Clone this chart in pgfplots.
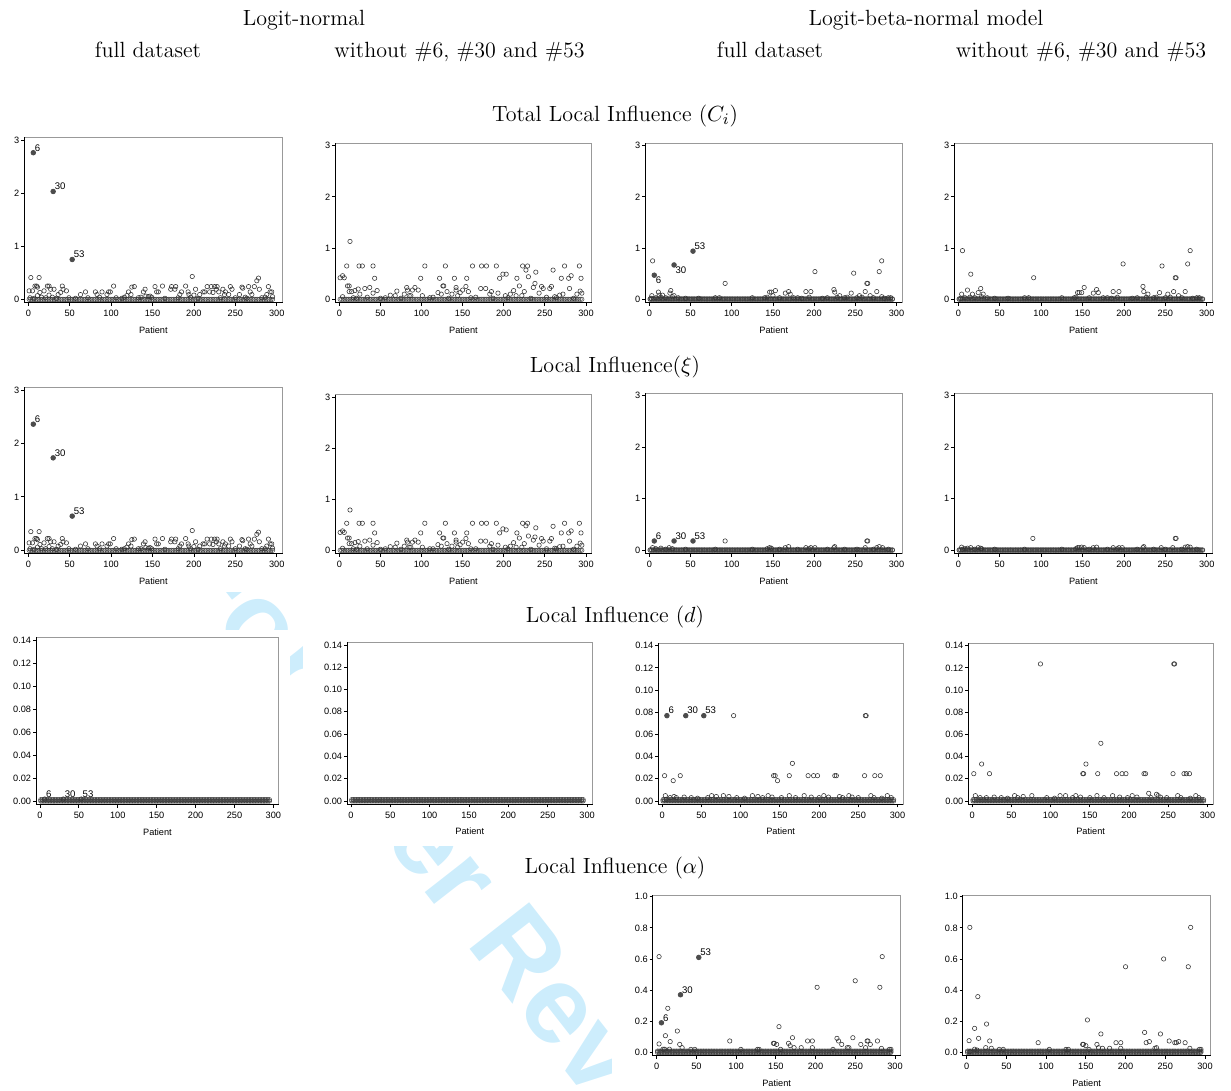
\documentclass[border=0pt]{standalone}
\usepackage{fontspec}
\setsansfont{Liberation Sans}
\usepackage{pgfplots}
\usepackage{pgfplotstable}
\pgfplotsset{compat=1.18}
\definecolor{wmblue}{RGB}{205,237,252}

\pgfplotstableread{
x z s d
1 0 0.008 0.0012
2 0 0.018 0.0021
3 0 0.008 0.0012
4 0 0.018 0.0021
5 0 0.008 0.0012
6 0 0.018 0.0021
7 0 0.008 0.0012
8 0 0.018 0.0021
9 0 0.008 0.0012
10 0 0.018 0.0021
11 0 0.008 0.0012
12 0 0.018 0.0021
13 0 0.008 0.0012
14 0 0.018 0.0021
15 0 0.008 0.0012
16 0 0.018 0.0021
17 0 0.008 0.0012
18 0 0.018 0.0021
19 0 0.008 0.0012
20 0 0.018 0.0021
21 0 0.008 0.0012
22 0 0.018 0.0021
23 0 0.008 0.0012
24 0 0.018 0.0021
25 0 0.008 0.0012
26 0 0.018 0.0021
27 0 0.008 0.0012
28 0 0.018 0.0021
29 0 0.008 0.0012
30 0 0.018 0.0021
31 0 0.008 0.0012
32 0 0.018 0.0021
33 0 0.008 0.0012
34 0 0.018 0.0021
35 0 0.008 0.0012
36 0 0.018 0.0021
37 0 0.008 0.0012
38 0 0.018 0.0021
39 0 0.008 0.0012
40 0 0.018 0.0021
41 0 0.008 0.0012
42 0 0.018 0.0021
43 0 0.008 0.0012
44 0 0.018 0.0021
45 0 0.008 0.0012
46 0 0.018 0.0021
47 0 0.008 0.0012
48 0 0.018 0.0021
49 0 0.008 0.0012
50 0 0.018 0.0021
51 0 0.008 0.0012
52 0 0.018 0.0021
53 0 0.008 0.0012
54 0 0.018 0.0021
55 0 0.008 0.0012
56 0 0.018 0.0021
57 0 0.008 0.0012
58 0 0.018 0.0021
59 0 0.008 0.0012
60 0 0.018 0.0021
61 0 0.008 0.0012
62 0 0.018 0.0021
63 0 0.008 0.0012
64 0 0.018 0.0021
65 0 0.008 0.0012
66 0 0.018 0.0021
67 0 0.008 0.0012
68 0 0.018 0.0021
69 0 0.008 0.0012
70 0 0.018 0.0021
71 0 0.008 0.0012
72 0 0.018 0.0021
73 0 0.008 0.0012
74 0 0.018 0.0021
75 0 0.008 0.0012
76 0 0.018 0.0021
77 0 0.008 0.0012
78 0 0.018 0.0021
79 0 0.008 0.0012
80 0 0.018 0.0021
81 0 0.008 0.0012
82 0 0.018 0.0021
83 0 0.008 0.0012
84 0 0.018 0.0021
85 0 0.008 0.0012
86 0 0.018 0.0021
87 0 0.008 0.0012
88 0 0.018 0.0021
89 0 0.008 0.0012
90 0 0.018 0.0021
91 0 0.008 0.0012
92 0 0.018 0.0021
93 0 0.008 0.0012
94 0 0.018 0.0021
95 0 0.008 0.0012
96 0 0.018 0.0021
97 0 0.008 0.0012
98 0 0.018 0.0021
99 0 0.008 0.0012
100 0 0.018 0.0021
101 0 0.008 0.0012
102 0 0.018 0.0021
103 0 0.008 0.0012
104 0 0.018 0.0021
105 0 0.008 0.0012
106 0 0.018 0.0021
107 0 0.008 0.0012
108 0 0.018 0.0021
109 0 0.008 0.0012
110 0 0.018 0.0021
111 0 0.008 0.0012
112 0 0.018 0.0021
113 0 0.008 0.0012
114 0 0.018 0.0021
115 0 0.008 0.0012
116 0 0.018 0.0021
117 0 0.008 0.0012
118 0 0.018 0.0021
119 0 0.008 0.0012
120 0 0.018 0.0021
121 0 0.008 0.0012
122 0 0.018 0.0021
123 0 0.008 0.0012
124 0 0.018 0.0021
125 0 0.008 0.0012
126 0 0.018 0.0021
127 0 0.008 0.0012
128 0 0.018 0.0021
129 0 0.008 0.0012
130 0 0.018 0.0021
131 0 0.008 0.0012
132 0 0.018 0.0021
133 0 0.008 0.0012
134 0 0.018 0.0021
135 0 0.008 0.0012
136 0 0.018 0.0021
137 0 0.008 0.0012
138 0 0.018 0.0021
139 0 0.008 0.0012
140 0 0.018 0.0021
141 0 0.008 0.0012
142 0 0.018 0.0021
143 0 0.008 0.0012
144 0 0.018 0.0021
145 0 0.008 0.0012
146 0 0.018 0.0021
147 0 0.008 0.0012
148 0 0.018 0.0021
149 0 0.008 0.0012
150 0 0.018 0.0021
151 0 0.008 0.0012
152 0 0.018 0.0021
153 0 0.008 0.0012
154 0 0.018 0.0021
155 0 0.008 0.0012
156 0 0.018 0.0021
157 0 0.008 0.0012
158 0 0.018 0.0021
159 0 0.008 0.0012
160 0 0.018 0.0021
161 0 0.008 0.0012
162 0 0.018 0.0021
163 0 0.008 0.0012
164 0 0.018 0.0021
165 0 0.008 0.0012
166 0 0.018 0.0021
167 0 0.008 0.0012
168 0 0.018 0.0021
169 0 0.008 0.0012
170 0 0.018 0.0021
171 0 0.008 0.0012
172 0 0.018 0.0021
173 0 0.008 0.0012
174 0 0.018 0.0021
175 0 0.008 0.0012
176 0 0.018 0.0021
177 0 0.008 0.0012
178 0 0.018 0.0021
179 0 0.008 0.0012
180 0 0.018 0.0021
181 0 0.008 0.0012
182 0 0.018 0.0021
183 0 0.008 0.0012
184 0 0.018 0.0021
185 0 0.008 0.0012
186 0 0.018 0.0021
187 0 0.008 0.0012
188 0 0.018 0.0021
189 0 0.008 0.0012
190 0 0.018 0.0021
191 0 0.008 0.0012
192 0 0.018 0.0021
193 0 0.008 0.0012
194 0 0.018 0.0021
195 0 0.008 0.0012
196 0 0.018 0.0021
197 0 0.008 0.0012
198 0 0.018 0.0021
199 0 0.008 0.0012
200 0 0.018 0.0021
201 0 0.008 0.0012
202 0 0.018 0.0021
203 0 0.008 0.0012
204 0 0.018 0.0021
205 0 0.008 0.0012
206 0 0.018 0.0021
207 0 0.008 0.0012
208 0 0.018 0.0021
209 0 0.008 0.0012
210 0 0.018 0.0021
211 0 0.008 0.0012
212 0 0.018 0.0021
213 0 0.008 0.0012
214 0 0.018 0.0021
215 0 0.008 0.0012
216 0 0.018 0.0021
217 0 0.008 0.0012
218 0 0.018 0.0021
219 0 0.008 0.0012
220 0 0.018 0.0021
221 0 0.008 0.0012
222 0 0.018 0.0021
223 0 0.008 0.0012
224 0 0.018 0.0021
225 0 0.008 0.0012
226 0 0.018 0.0021
227 0 0.008 0.0012
228 0 0.018 0.0021
229 0 0.008 0.0012
230 0 0.018 0.0021
231 0 0.008 0.0012
232 0 0.018 0.0021
233 0 0.008 0.0012
234 0 0.018 0.0021
235 0 0.008 0.0012
236 0 0.018 0.0021
237 0 0.008 0.0012
238 0 0.018 0.0021
239 0 0.008 0.0012
240 0 0.018 0.0021
241 0 0.008 0.0012
242 0 0.018 0.0021
243 0 0.008 0.0012
244 0 0.018 0.0021
245 0 0.008 0.0012
246 0 0.018 0.0021
247 0 0.008 0.0012
248 0 0.018 0.0021
249 0 0.008 0.0012
250 0 0.018 0.0021
251 0 0.008 0.0012
252 0 0.018 0.0021
253 0 0.008 0.0012
254 0 0.018 0.0021
255 0 0.008 0.0012
256 0 0.018 0.0021
257 0 0.008 0.0012
258 0 0.018 0.0021
259 0 0.008 0.0012
260 0 0.018 0.0021
261 0 0.008 0.0012
262 0 0.018 0.0021
263 0 0.008 0.0012
264 0 0.018 0.0021
265 0 0.008 0.0012
266 0 0.018 0.0021
267 0 0.008 0.0012
268 0 0.018 0.0021
269 0 0.008 0.0012
270 0 0.018 0.0021
271 0 0.008 0.0012
272 0 0.018 0.0021
273 0 0.008 0.0012
274 0 0.018 0.0021
275 0 0.008 0.0012
276 0 0.018 0.0021
277 0 0.008 0.0012
278 0 0.018 0.0021
279 0 0.008 0.0012
280 0 0.018 0.0021
281 0 0.008 0.0012
282 0 0.018 0.0021
283 0 0.008 0.0012
284 0 0.018 0.0021
285 0 0.008 0.0012
286 0 0.018 0.0021
287 0 0.008 0.0012
288 0 0.018 0.0021
289 0 0.008 0.0012
290 0 0.018 0.0021
291 0 0.008 0.0012
292 0 0.018 0.0021
293 0 0.008 0.0012
294 0 0.018 0.0021
295 0 0.008 0.0012
}\base

\pgfplotsset{
  panel/.style={
    scale only axis, anchor=south west,
    xmin=-5, xmax=307,
    xtick={0,50,100,150,200,250,300},
    xtick pos=bottom, ytick pos=left,
    tick align=outside, major tick length=1.5pt,
    tick style={black, line width=0.4pt},
    axis line style={draw=black!40, line width=0.4pt},
    ticklabel style={font=\fontsize{4.6}{5}\selectfont\sffamily, inner sep=0.8pt},
    xticklabel style={yshift=-1.3pt},
    /pgf/number format/assume math mode=true,
    scaled x ticks=false, scaled y ticks=false,
    xlabel={Patient},
    xlabel style={font=\fontsize{4.6}{5}\selectfont\sffamily, at={(rel axis cs:0.5,0)}, anchor=base, yshift=-15.25pt, inner sep=0pt},
    clip=false,
    after end axis/.code={\draw[black, line width=0.45pt] (rel axis cs:0,1) -- (rel axis cs:0,0) -- (rel axis cs:1,0);},
  },
  r12/.style={ymin=-0.065, ymax=3.05, ytick={0,1,2,3}},
  r3/.style={ymin=-0.003, ymax=0.1423, ytick={0,0.02,0.04,0.06,0.08,0.10,0.12,0.14},
    yticklabel style={/pgf/number format/.cd, fixed, fixed zerofill, precision=2}},
  r4/.style={ymin=-0.021, ymax=1.011, ytick={0,0.2,0.4,0.6,0.8,1},
    yticklabel style={/pgf/number format/.cd, fixed, fixed zerofill, precision=1}},
  op/.style={only marks, mark=o, mark size=1.1pt, mark options={line width=0.28pt}, color=black!80},
  bp/.style={only marks, mark=o, mark size=1.1pt, mark options={line width=0.25pt}, color=black!75, each nth point=2},
  fp/.style={only marks, mark=*, mark size=1.15pt, color=black!70},
  lab/.style={nodes near coords, point meta=explicit symbolic,
    nodes near coords style={font=\fontsize{4.8}{5}\selectfont\sffamily, inner sep=0.6pt, anchor=south west, text=black}},
  labdown/.style={nodes near coords, point meta=explicit symbolic,
    nodes near coords style={font=\fontsize{4.8}{5}\selectfont\sffamily, inner sep=0.6pt, anchor=north west, text=black}},
}

\begin{document}
\begin{tikzpicture}
\useasboundingbox (0,0) rectangle (615.5pt,-545.5pt);
% watermark
\node[rotate=-52, anchor=base west, text=wmblue, font=\fontsize{55}{60}\selectfont\sffamily\bfseries, inner sep=0pt] at (86pt,-284pt) {For Peer Review};
% panel backgrounds
\fill[white] (0,-62.5pt) rectangle (145pt,-170pt);
\fill[white] (151.5pt,-62.5pt) rectangle (300pt,-170pt);
\fill[white] (306pt,-62.5pt) rectangle (456pt,-170pt);
\fill[white] (461pt,-62.5pt) rectangle (615.5pt,-170pt);
\fill[white] (0,-188pt) rectangle (145pt,-296pt);
\fill[white] (151.5pt,-188pt) rectangle (300pt,-296pt);
\fill[white] (306pt,-188pt) rectangle (456pt,-296pt);
\fill[white] (461pt,-188pt) rectangle (615.5pt,-296pt);
\fill[white] (0,-315pt) rectangle (145pt,-421pt);
\fill[white] (151.5pt,-315pt) rectangle (300pt,-423pt);
\fill[white] (306pt,-315pt) rectangle (456pt,-421pt);
\fill[white] (461pt,-315pt) rectangle (615.5pt,-421pt);
\fill[white] (306pt,-440pt) rectangle (456pt,-545.5pt);
\fill[white] (461pt,-440pt) rectangle (615.5pt,-545.5pt);

% headers
\begin{scope}[every node/.style={font=\fontsize{11}{13}\selectfont, anchor=base, inner sep=0pt}]
\node at (152pt,-12.6pt) {Logit-normal};
\node at (463pt,-12.6pt) {Logit-beta-normal model};
\node at (74pt,-28.9pt) {full dataset};
\node at (229.75pt,-28.9pt) {without \#6, \#30 and \#53};
\node at (385pt,-28.9pt) {full dataset};
\node at (540.5pt,-28.9pt) {without \#6, \#30 and \#53};
\node at (307.5pt,-60.6pt) {Total Local Influence ($C_i$)};
\node at (307.5pt,-186.1pt) {Local Influence($\xi$)};
\node at (307.5pt,-311.1pt) {Local Influence ($d$)};
\node at (307.5pt,-436.6pt) {Local Influence ($\alpha$)};
\end{scope}

% ---------------- Row 1 ----------------
\begin{axis}[panel, r12, at={(12.1pt,-151.4pt)}, width=129.15pt, height=82.75pt]
\addplot[bp] table[x=x,y=z] {\base};
\addplot[op] coordinates {(1,0.16) (3,0.41) (5,0.16) (8,0.25) (10,0.25) (11,0.23) (11,0.07) (13,0.41) (14,0.13) (19,0.16) (23,0.25) (25,0.25) (25,0.08) (27,0.19) (31,0.19) (36,0.09) (39,0.13) (41,0.25) (42,0.19) (46,0.16) (63,0.09) (69,0.14) (81,0.14) (83,0.09) (89,0.14) (95,0.09) (97,0.14) (99,0.14) (103,0.25) (119,0.07) (121,0.14) (124,0.09) (125,0.23) (128,0.24) (139,0.14) (141,0.19) (142,0.06) (147,0.06) (153,0.24) (155,0.14) (157,0.14) (162,0.25) (172,0.19) (173,0.24) (177,0.19) (178,0.24) (183,0.09) (185,0.14) (190,0.25) (193,0.14) (194,0.09) (198,0.43) (200,0.08) (202,0.19) (207,0.09) (211,0.14) (213,0.14) (216,0.24) (219,0.14) (221,0.24) (223,0.13) (225,0.24) (227,0.19) (228,0.24) (230,0.14) (235,0.19) (237,0.09) (238,0.14) (242,0.09) (244,0.24) (246,0.19) (255,0.09) (258,0.23) (259,0.21) (266,0.24) (268,0.14) (270,0.09) (273,0.24) (276,0.35) (278,0.40) (279,0.19) (288,0.09) (290,0.24) (292,0.14) (294,0.14) (295,0.05)
(2,0.03) (7,0.02) (16,0.04) (21,0.03) (29,0.04) (34,0.02) (49,0.03) (57,0.02) (72,0.03) (86,0.04) (106,0.03) (113,0.02) (116,0.04) (133,0.03) (136,0.04) (145,0.05) (149,0.04) (165,0.02) (181,0.03) (196,0.04) (205,0.02) (232,0.03) (250,0.03) (262,0.04) (264,0.02) (282,0.03) (286,0.04)};
\addplot[fp, lab] coordinates {(6,2.76) [6] (30,2.03) [30] (53,0.75) [53]};
\end{axis}

\begin{axis}[panel, r12, at={(167.6pt,-151.3pt)}, width=128.25pt, height=79.75pt]
\addplot[bp] table[x=x,y=z] {\base};
\addplot[op] coordinates {(1,0.42) (4,0.46) (6,0.42) (4,0.05) (9,0.65) (10,0.26) (12,0.26) (13,1.13) (12,0.15) (15,0.15) (19,0.17) (23,0.2) (24,0.65) (25,0.1) (28,0.65) (31,0.21) (37,0.23) (41,0.12) (41,0.65) (43,0.41) (46,0.17) (62,0.08) (68,0.07) (70,0.16) (79,0.1) (82,0.23) (83,0.18) (85,0.07) (87,0.07) (89,0.18) (92,0.23) (96,0.18) (99,0.41) (101,0.07) (104,0.65) (120,0.13) (122,0.41) (124,0.1) (126,0.26) (127,0.26) (129,0.65) (131,0.15) (137,0.1) (140,0.41) (142,0.18) (142,0.23) (144,0.07) (147,0.13) (150,0.18) (154,0.25) (155,0.41) (157,0.15) (162,0.65) (172,0.21) (173,0.65) (178,0.21) (179,0.65) (183,0.1) (185,0.15) (191,0.65) (193,0.12) (195,0.41) (199,0.49) (203,0.49) (202,0.07) (208,0.1) (212,0.17) (215,0.07) (216,0.41) (219,0.26) (222,0.07) (223,0.65) (225,0.15) (227,0.57) (229,0.65) (230,0.44) (236,0.23) (238,0.31) (239,0.53) (243,0.12) (246,0.25) (248,0.21) (256,0.21) (258,0.25) (260,0.57) (262,0.05) (268,0.08) (270,0.41) (272,0.1) (274,0.65) (279,0.41) (280,0.21) (282,0.46) (289,0.1) (292,0.65) (293,0.16) (294,0.41) (295,0.12)
(17,0.03) (21,0.02) (34,0.04) (50,0.02) (56,0.03) (75,0.02) (110,0.03) (114,0.04) (133,0.02) (160,0.03) (166,0.04) (187,0.02) (205,0.03) (233,0.02) (252,0.04) (264,0.03) (285,0.02)};
\end{axis}

\begin{axis}[panel, r12, at={(322.6pt,-151.3pt)}, width=128.55pt, height=79.75pt]
\addplot[bp] table[x=x,y=z] {\base};
\addplot[bp] table[x=x,y=s] {\base};
\addplot[op] coordinates {(4,0.75) (3,0.07) (2,0.02) (11,0.14) (12,0.08) (16,0.08) (25,0.12) (26,0.17) (30,0.07) (92,0.31) (146,0.14) (148,0.14) (150,0.07) (153,0.17) (165,0.12) (169,0.15) (171,0.1) (190,0.15) (196,0.15) (201,0.54) (224,0.19) (225,0.14) (231,0.07) (245,0.12) (248,0.51) (255,0.07) (262,0.15) (264,0.31) (265,0.31) (268,0.07) (276,0.15) (279,0.54) (282,0.75) (282,0.05)
(8,0.03) (14,0.04) (20,0.03) (28,0.05) (35,0.03) (44,0.02) (60,0.02) (80,0.03) (85,0.03) (125,0.03) (140,0.03) (143,0.04) (158,0.03) (175,0.03) (180,0.03) (185,0.02) (194,0.04) (210,0.02) (216,0.03) (228,0.04) (237,0.03) (240,0.04) (252,0.03) (258,0.04) (272,0.03) (285,0.02) (290,0.03) (293,0.03)};
\addplot[fp, labdown] coordinates {(6,0.47) [6] (30,0.67) [30]};
\addplot[fp, lab] coordinates {(53,0.94) [53]};
\end{axis}

\begin{axis}[panel, r12, at={(477.1pt,-151.3pt)}, width=129.15pt, height=79.75pt]
\addplot[bp] table[x=x,y=z] {\base};
\addplot[bp] table[x=x,y=s] {\base};
\addplot[op] coordinates {(5,0.95) (4,0.1) (3,0.02) (11,0.18) (15,0.49) (17,0.1) (24,0.13) (27,0.21) (30,0.1) (91,0.42) (144,0.13) (146,0.13) (149,0.13) (152,0.23) (163,0.12) (167,0.19) (169,0.13) (187,0.15) (194,0.15) (199,0.69) (223,0.25) (224,0.15) (229,0.1) (243,0.13) (246,0.65) (253,0.1) (260,0.15) (262,0.42) (263,0.42) (266,0.07) (274,0.15) (277,0.69) (280,0.95)
(8,0.03) (14,0.04) (20,0.03) (28,0.05) (35,0.03) (44,0.02) (60,0.02) (80,0.03) (85,0.03) (125,0.03) (140,0.03) (142,0.04) (158,0.03) (175,0.03) (180,0.03) (185,0.02) (192,0.04) (210,0.02) (216,0.03) (227,0.04) (236,0.03) (239,0.04) (250,0.03) (256,0.04) (270,0.03) (283,0.02) (288,0.03) (291,0.03)};
\end{axis}

% ---------------- Row 2 ----------------
\begin{axis}[panel, r12, at={(12.1pt,-276.9pt)}, width=129.15pt, height=83.25pt]
\addplot[bp] table[x=x,y=z] {\base};
\addplot[op] coordinates {(1,0.14) (3,0.35) (5,0.14) (8,0.22) (10,0.22) (11,0.2) (11,0.06) (13,0.35) (14,0.11) (19,0.14) (23,0.22) (25,0.22) (25,0.07) (27,0.16) (31,0.16) (36,0.08) (39,0.11) (41,0.22) (42,0.16) (46,0.14) (63,0.08) (69,0.12) (81,0.12) (83,0.08) (89,0.12) (95,0.08) (97,0.12) (99,0.12) (103,0.22) (119,0.06) (121,0.12) (124,0.08) (125,0.2) (128,0.21) (139,0.12) (141,0.16) (142,0.05) (147,0.05) (153,0.21) (155,0.12) (157,0.12) (162,0.22) (172,0.16) (173,0.21) (177,0.16) (178,0.21) (183,0.08) (185,0.12) (190,0.22) (193,0.12) (194,0.08) (198,0.37) (200,0.07) (202,0.16) (207,0.08) (211,0.12) (213,0.12) (216,0.21) (219,0.12) (221,0.21) (223,0.11) (225,0.21) (227,0.16) (228,0.21) (230,0.12) (235,0.16) (237,0.08) (238,0.12) (242,0.08) (244,0.21) (246,0.16) (255,0.08) (258,0.2) (259,0.18) (266,0.21) (268,0.12) (270,0.08) (273,0.21) (276,0.30) (278,0.34) (279,0.16) (288,0.08) (290,0.21) (292,0.12) (294,0.12) (295,0.04)
(2,0.03) (7,0.02) (16,0.03) (21,0.03) (29,0.03) (34,0.02) (49,0.03) (57,0.02) (72,0.03) (86,0.03) (106,0.03) (113,0.02) (116,0.03) (133,0.03) (136,0.03) (145,0.04) (149,0.03) (165,0.02) (181,0.03) (196,0.03) (205,0.02) (232,0.03) (250,0.03) (262,0.03) (264,0.02) (282,0.03) (286,0.03)};
\addplot[fp, lab] coordinates {(6,2.36) [6] (30,1.73) [30] (53,0.64) [53]};
\end{axis}

\begin{axis}[panel, r12, at={(167.6pt,-276.8pt)}, width=128.25pt, height=79.45pt]
\addplot[bp] table[x=x,y=z] {\base};
\addplot[op] coordinates {(1,0.35) (4,0.38) (6,0.35) (4,0.04) (9,0.53) (10,0.24) (12,0.24) (13,0.79) (12,0.13) (15,0.13) (19,0.15) (23,0.17) (24,0.53) (25,0.08) (28,0.53) (31,0.18) (37,0.2) (41,0.1) (41,0.53) (43,0.34) (46,0.15) (62,0.07) (68,0.06) (70,0.14) (79,0.08) (82,0.2) (83,0.16) (85,0.06) (87,0.06) (89,0.16) (92,0.2) (96,0.16) (99,0.34) (101,0.06) (104,0.53) (120,0.11) (122,0.34) (124,0.08) (126,0.24) (127,0.24) (129,0.53) (131,0.13) (137,0.08) (140,0.34) (142,0.16) (142,0.2) (144,0.06) (147,0.11) (150,0.16) (154,0.23) (155,0.34) (157,0.13) (162,0.53) (172,0.18) (173,0.53) (178,0.18) (179,0.53) (183,0.08) (185,0.13) (191,0.53) (193,0.1) (195,0.34) (199,0.42) (203,0.4) (202,0.06) (208,0.08) (212,0.15) (215,0.06) (216,0.34) (219,0.24) (222,0.06) (223,0.53) (225,0.13) (227,0.48) (229,0.53) (230,0.28) (236,0.2) (238,0.26) (239,0.44) (243,0.1) (246,0.23) (248,0.18) (256,0.18) (258,0.23) (260,0.47) (262,0.04) (268,0.07) (270,0.34) (272,0.08) (274,0.53) (279,0.34) (280,0.18) (282,0.38) (289,0.08) (292,0.53) (293,0.14) (294,0.34) (295,0.1)
(17,0.03) (21,0.02) (34,0.03) (50,0.02) (56,0.03) (75,0.02) (110,0.03) (114,0.03) (133,0.02) (160,0.03) (166,0.03) (187,0.02) (205,0.03) (233,0.02) (252,0.03) (264,0.03) (285,0.02)};
\end{axis}

\begin{axis}[panel, r12, at={(322.6pt,-276.8pt)}, width=128.55pt, height=80.25pt]
\addplot[bp] table[x=x,y=z] {\base};
\addplot[bp] table[x=x,y=s] {\base};
\addplot[op] coordinates {(4,0.05) (14,0.04) (24,0.05) (92,0.18) (146,0.05) (148,0.04) (165,0.05) (169,0.07) (190,0.05) (196,0.05) (201,0.05) (224,0.05) (225,0.07) (262,0.05) (264,0.18) (265,0.18) (276,0.05) (279,0.07) (283,0.05)
(8,0.03) (20,0.02) (28,0.03) (44,0.02) (80,0.02) (125,0.02) (143,0.03) (158,0.02) (180,0.02) (194,0.03) (216,0.02) (237,0.02) (252,0.02) (272,0.02) (290,0.02)};
\addplot[fp, lab] coordinates {(6,0.18) [6] (30,0.18) [30] (53,0.18) [53]};
\end{axis}

\begin{axis}[panel, r12, at={(477.1pt,-276.8pt)}, width=129.15pt, height=80.25pt]
\addplot[bp] table[x=x,y=z] {\base};
\addplot[bp] table[x=x,y=s] {\base};
\addplot[op] coordinates {(4,0.06) (5,0.02) (11,0.04) (15,0.05) (24,0.05) (27,0.04) (90,0.23) (144,0.05) (146,0.05) (149,0.06) (152,0.05) (163,0.05) (167,0.06) (187,0.05) (194,0.05) (198,0.05) (223,0.05) (224,0.07) (245,0.05) (259,0.05) (262,0.23) (263,0.23) (274,0.06) (277,0.07) (280,0.06)
(8,0.03) (20,0.02) (28,0.03) (44,0.02) (80,0.02) (125,0.02) (142,0.03) (158,0.02) (180,0.02) (192,0.03) (216,0.02) (236,0.02) (250,0.02) (270,0.02) (288,0.02)};
\end{axis}

% ---------------- Row 3 ----------------
\begin{axis}[panel, r3, at={(18.05pt,-402.25pt)}, width=121.35pt, height=83.6pt]
\addplot[bp] table[x=x,y=z] {\base};
\addplot[bp] table[x=x,y=d] {\base};
\addplot[op, lab] coordinates {(6,0.0018) [6] (30,0.0018) [30] (53,0.0018) [53]};
\end{axis}

\begin{axis}[panel, r3, at={(173.5pt,-402.15pt)}, width=122.8pt, height=80.95pt]
\addplot[bp] table[x=x,y=z] {\base};
\addplot[bp] table[x=x,y=d] {\base};
\end{axis}

\begin{axis}[panel, r3, at={(329.15pt,-402.15pt)}, width=122.35pt, height=80.6pt]
\addplot[bp] table[x=x,y=z] {\base};
\addplot[bp] table[x=x,y=d] {\base};
\addplot[op] coordinates {(3,0.0228) (4,0.0048) (5,0.0015) (14,0.0183) (15,0.004) (23,0.0228) (91,0.0769) (63,0.0048) (69,0.004) (78,0.0048) (85,0.004) (115,0.0048) (122,0.004) (135,0.0048) (142,0.0228) (144,0.0228) (147,0.0183) (162,0.0228) (166,0.0339) (162,0.0048) (181,0.0048) (186,0.0228) (193,0.0228) (198,0.0228) (206,0.0048) (220,0.0228) (222,0.0228) (226,0.004) (238,0.0048) (258,0.0228) (259,0.0769) (260,0.0769) (266,0.0048) (271,0.0228) (278,0.0228) (287,0.0048)
(10,0.003) (18,0.003) (28,0.0035) (37,0.003) (45,0.0025) (58,0.003) (95,0.003) (105,0.0025) (128,0.003) (140,0.0035) (152,0.003) (170,0.003) (190,0.0035) (200,0.003) (212,0.0035) (230,0.003) (242,0.0035) (250,0.003) (270,0.003) (280,0.0025) (292,0.003)};
\addplot[fp, lab] coordinates {(6,0.0769) [6] (30,0.0769) [30] (53,0.0769) [53]};
\end{axis}

\begin{axis}[panel, r3, at={(484.15pt,-402.15pt)}, width=122.35pt, height=80.6pt]
\addplot[bp] table[x=x,y=z] {\base};
\addplot[bp] table[x=x,y=d] {\base};
\addplot[op] coordinates {(2,0.0246) (4,0.0048) (12,0.0333) (22,0.0246) (87,0.1235) (54,0.0048) (65,0.004) (76,0.0048) (112,0.0048) (119,0.0048) (132,0.0048) (141,0.0246) (142,0.0246) (145,0.0333) (160,0.0246) (164,0.052) (159,0.0048) (179,0.0048) (184,0.0246) (191,0.0246) (196,0.0246) (204,0.0048) (219,0.0246) (221,0.0246) (225,0.0069) (235,0.006) (237,0.0048) (256,0.0246) (257,0.1235) (258,0.1235) (262,0.0048) (270,0.0246) (273,0.0246) (277,0.0246) (285,0.0048)
(10,0.003) (18,0.003) (28,0.0035) (37,0.003) (45,0.0025) (58,0.003) (95,0.003) (105,0.0025) (128,0.003) (138,0.0035) (150,0.003) (168,0.003) (188,0.0035) (198,0.003) (210,0.0035) (228,0.003) (240,0.0035) (248,0.003) (266,0.003) (278,0.0025) (289,0.003)};
\end{axis}

% ---------------- Row 4 ----------------
\begin{axis}[panel, r4, at={(326.35pt,-527.8pt)}, width=123.9pt, height=80.3pt]
\addplot[bp] table[x=x,y=z] {\base};
\addplot[bp] table[x=x,y=s] {\base};
\addplot[op] coordinates {(3,0.615) (3,0.054) (11,0.107) (14,0.283) (17,0.069) (16,0.02) (8,0.02) (10,0.02) (26,0.137) (29,0.051) (32,0.03) (43,0.019) (48,0.019) (92,0.073) (106,0.019) (127,0.019) (129,0.019) (147,0.058) (148,0.058) (151,0.051) (154,0.165) (156,0.019) (166,0.058) (168,0.043) (171,0.094) (173,0.03) (182,0.03) (190,0.073) (196,0.073) (196,0.03) (202,0.418) (222,0.019) (227,0.09) (229,0.073) (233,0.051) (240,0.03) (242,0.03) (247,0.094) (250,0.46) (257,0.051) (263,0.03) (265,0.073) (266,0.073) (269,0.051) (278,0.073) (281,0.418) (284,0.615) (283,0.025) (293,0.019) (295,0.019)};
\addplot[fp, lab] coordinates {(6,0.19) [6] (30,0.37) [30] (53,0.61) [53]};
\end{axis}

\begin{axis}[panel, r4, at={(481.35pt,-527.8pt)}, width=123.9pt, height=80.3pt]
\addplot[bp] table[x=x,y=z] {\base};
\addplot[bp] table[x=x,y=s] {\base};
\addplot[op] coordinates {(4,0.803) (3,0.075) (4,0.004) (10,0.154) (14,0.358) (15,0.09) (10,0.02) (13,0.015) (25,0.182) (29,0.073) (31,0.026) (24,0.03) (41,0.019) (46,0.019) (90,0.062) (104,0.019) (125,0.019) (128,0.019) (146,0.051) (147,0.051) (150,0.043) (152,0.208) (154,0.019) (164,0.051) (166,0.03) (169,0.118) (171,0.026) (180,0.026) (188,0.062) (194,0.062) (194,0.026) (200,0.55) (224,0.128) (226,0.062) (230,0.069) (237,0.026) (239,0.03) (244,0.118) (248,0.6) (255,0.073) (262,0.062) (264,0.062) (267,0.069) (275,0.062) (279,0.55) (282,0.803) (281,0.026) (293,0.019) (295,0.019)};
\end{axis}
\end{tikzpicture}
\end{document}
